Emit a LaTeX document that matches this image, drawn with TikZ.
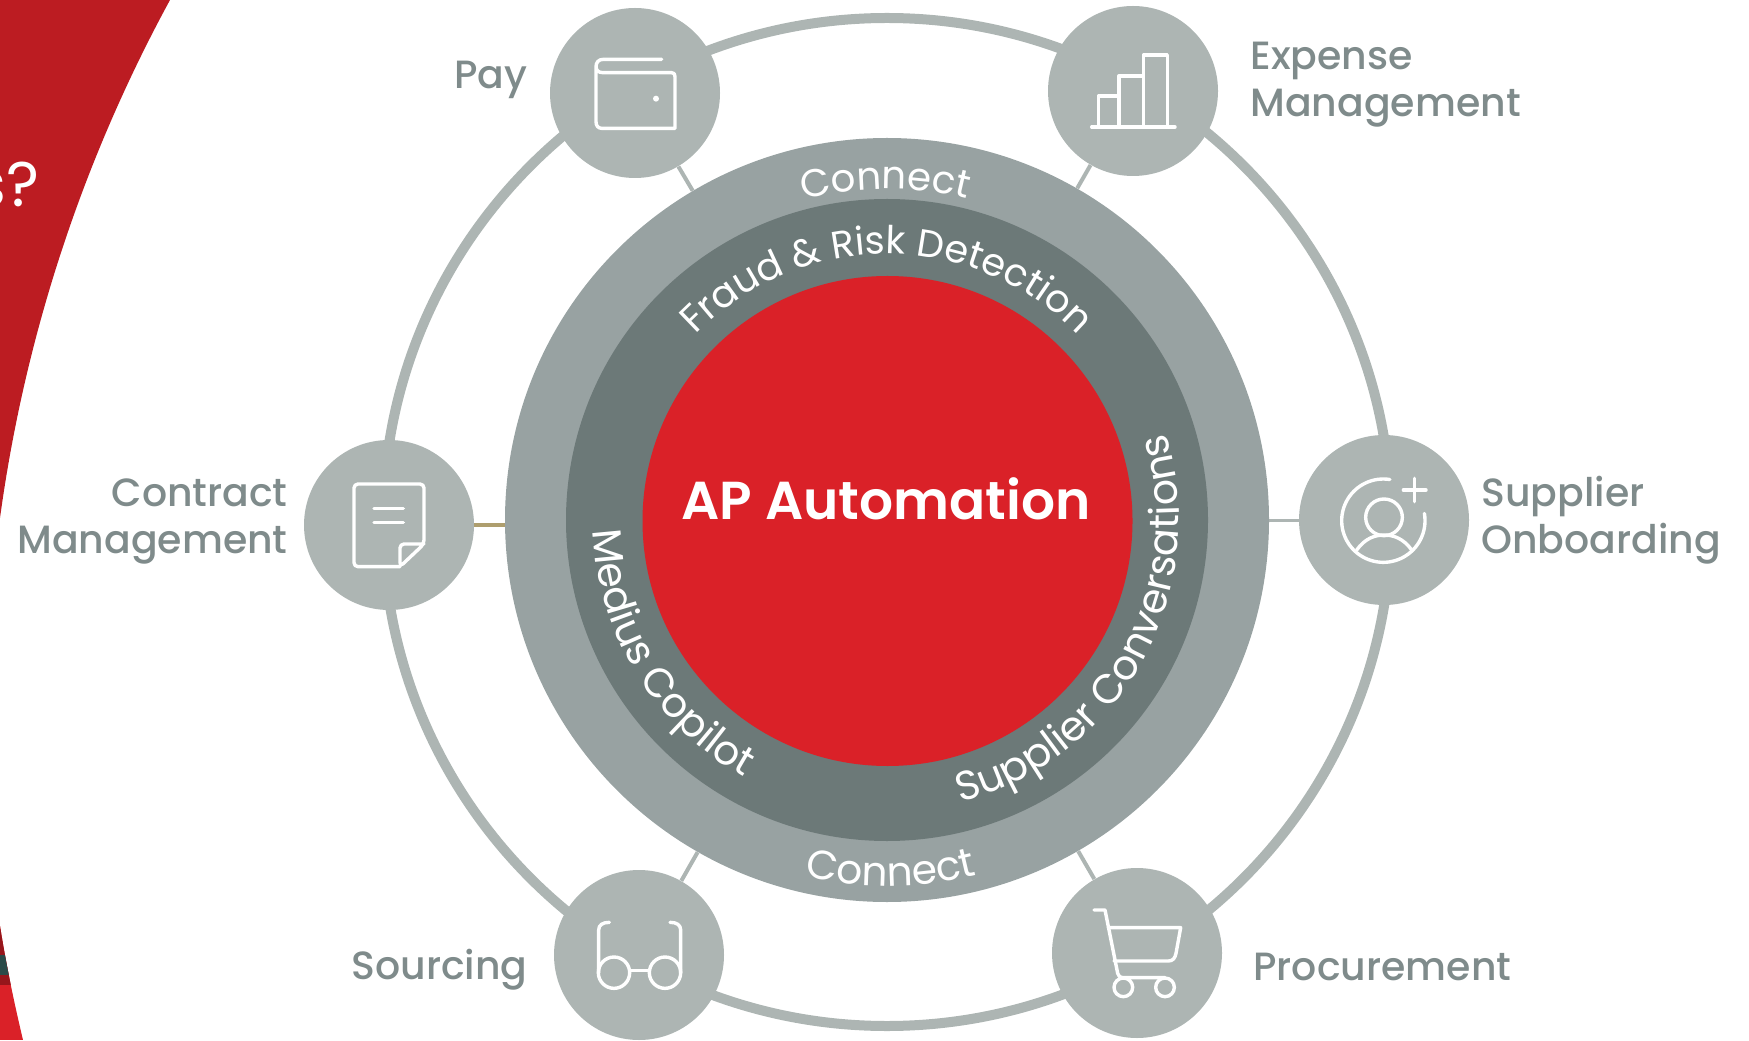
\documentclass[tikz,border=0pt]{standalone}
\usepackage{fontspec}
\setmainfont{Poppins}
\newfontfamily\pmed{Poppins Medium}
\newfontfamily\psemi{Poppins SemiBold}
\usetikzlibrary{decorations.text}
\pgfdeclarelayer{back}
\pgfsetlayers{back,main}
\definecolor{ringc}{HTML}{ADB5B3}
\definecolor{outerc}{HTML}{98A2A2}
\definecolor{midc}{HTML}{6C7978}
\definecolor{corec}{HTML}{DA2128}
\definecolor{darkred}{HTML}{BC1C22}
\definecolor{labelc}{HTML}{7F8B8B}
\definecolor{tanc}{HTML}{AE9E6E}
\definecolor{tealc}{HTML}{2A4A48}
\tikzset{
  x=0.5pt,y=0.5pt,
  hubdisc/.style={circle,inner sep=0pt,minimum size=#1*1pt},
  station/.style={circle,inner sep=0pt,minimum size=85pt,fill=ringc},
  spoke/.style={ringc,line width=2pt},
  label/.style={text=labelc,inner sep=0pt,font=\pmed\fontsize{19.7}{23.5}\selectfont},
  icon/.style={white,line width=1.7pt,line cap=round,line join=round},
  ringtext/.style 2 args={decorate,decoration={text along path,text color=white,text align=center,text={|\fontsize{#1}{24}\selectfont|#2}}},
}
\begin{document}
\begin{tikzpicture}
\useasboundingbox (0,0) rectangle (1749,1040);
% background sweep
\fill[darkred] (0,1040) -- (170,1040) arc[start angle=151.43,end angle=172.23,radius=1510] -- cycle;
\begin{scope}
\clip (0,114) .. controls (6,76) and (14,38) .. (23,0) -- (0,0) -- cycle;
\fill[corec] (0,0) rectangle (40,120);
\fill[darkred!80!black] (0,55) rectangle (40,120);
\fill[tealc] (0,65) rectangle (40,85);
\end{scope}
\node[text=white,anchor=base east,inner sep=0pt,font=\fontsize{31.5}{36}\selectfont] (partial) at (40,833) {s?};
% central discs
\node[hubdisc=382,fill=outerc] (outer) at (887,520) {};
\node[hubdisc=321,fill=midc] (mid) at (887,520) {};
\node[hubdisc=245,fill=corec] (core) at (887.5,519) {};
\node[text=white,anchor=base,inner sep=0pt,font=\psemi\fontsize{26.7}{30}\selectfont] (title) at (886,521) {AP Automation};
% stations
\node[station] (pay) at (635,947) {};
\node[station] (expense) at (1133,949) {};
\node[station] (supplier) at (1384,520) {};
\node[station] (contract) at (389,515) {};
\node[station] (sourcing) at (639,85) {};
\node[station] (procurement) at (1137,87) {};
\begin{pgfonlayer}{back}
\node[circle,inner sep=0pt,minimum size=504pt,draw=ringc,line width=5pt] (ring) at (887,518) {};
\draw[spoke] (pay) -- (outer);
\draw[spoke] (expense) -- (outer);
\draw[spoke] (sourcing) -- (outer);
\draw[spoke] (procurement) -- (outer);
\draw[spoke,line width=1.5pt] (supplier) -- (outer);
\draw[tanc,line width=2pt] (contract) -- (contract -| outer);
\end{pgfonlayer}
% labels
\node[label,anchor=base east] (lpay) at (528,951) {Pay};
\node[label,anchor=base west,align=left] (lexp) at (1250,923) {Expense\\Management};
\node[label,anchor=base east,align=right] (lcon) at (288,487) {Contract\\Management};
\node[label,anchor=base west,align=left] (lsup) at (1481,487) {Supplier\\Onboarding};
\node[label,anchor=base east] (lsou) at (528,61) {Sourcing};
\node[label,anchor=base west] (lpro) at (1253,60) {Procurement};
% curved texts
\path[ringtext={19.4}{Connect}] ([shift={(115.3:331)}]mid.center) arc[start angle=115.3,end angle=65.3,radius=331];
\path[ringtext={19.2}{Fraud {\&} Risk Detection}] ([shift={(135:266)}]mid.center) arc[start angle=135,end angle=45,radius=266];
\path[ringtext={20.4}{Connect}] ([shift={(245.6:366)}]mid.center) arc[start angle=245.6,end angle=295.6,radius=366];
\path[ringtext={20.4}{Medius Copilot}] ([shift={(174:294)}]mid.center) arc[start angle=174,end angle=249,radius=294];
\path[ringtext={20.5}{Supplier Conversations}] ([shift={(-84:292)}]mid.center) arc[start angle=-84,end angle=26,radius=292];
% icons: wallet
\begin{scope}[shift={(540,1040)},x=0.16667pt,y=-0.16667pt]
\draw[icon] (365,178) -- (190,178) .. controls (175,178) and (168,188) .. (168,200) .. controls (168,210) and (175,218) .. (188,218) -- (395,218) .. controls (402,218) and (405,222) .. (405,230) -- (405,385) -- (185,385) .. controls (175,385) and (168,378) .. (168,365) -- (168,200);
\fill[white] (348,296) circle[radius=9];
\end{scope}
% chart
\begin{scope}[shift={(1040,1040)},x=0.16667pt,y=-0.16667pt]
\draw[icon] (155,381) -- (405,381);
\draw[icon,line cap=butt] (175,381) -- (175,288) -- (237,288);
\draw[icon,line cap=butt] (237,381) -- (237,228) -- (310,228);
\draw[icon,line cap=butt] (310,381) -- (310,165) -- (382,165) -- (382,381);
\end{scope}
% new supplier
\begin{scope}[shift={(1290,610)},x=0.16667pt,y=-0.16667pt]
\draw[icon] plot[domain=81:370,samples=70,smooth] ({280+125*cos(\x)},{272-125*sin(\x)});
\draw[icon] (282,262) circle[radius=55];
\draw[icon] (200,360) .. controls (225,325) and (255,315) .. (282,315) .. controls (310,315) and (340,325) .. (365,360);
\draw[icon] (373,145) -- (373,215);
\draw[icon] (340,180) -- (408,180);
\end{scope}
% contract
\begin{scope}[shift={(300,610)},x=0.16667pt,y=-0.16667pt]
\draw[icon,rounded corners=2pt] (300,410) -- (162,410) -- (162,162) -- (372,162) -- (372,342) -- (300,410) -- (300,342) -- (372,342);
\draw[icon] (222,236) -- (310,236);
\draw[icon] (222,277) -- (310,277);
\end{scope}
% glasses
\begin{scope}[shift={(550,180)},x=0.16667pt,y=-0.16667pt]
\draw[icon] (192,338) circle[radius=47];
\draw[icon] (345,338) circle[radius=47];
\draw[icon] (240,332) -- (298,332);
\draw[icon] (146,338) -- (146,210) .. controls (146,195) and (158,187) .. (178,187);
\draw[icon] (392,338) -- (392,210) .. controls (392,195) and (380,187) .. (360,187);
\end{scope}
% cart
\begin{scope}[shift={(1050,180)},x=0.16667pt,y=-0.16667pt]
\draw[icon] (132,150) -- (165,150) -- (203,340) .. controls (205,348) and (210,353) .. (218,353) -- (345,353);
\draw[icon] (175,203) -- (392,203) -- (378,280) .. controls (375,295) and (368,303) .. (355,303) -- (192,303);
\draw[icon] (220,382) circle[radius=28];
\draw[icon] (345,382) circle[radius=28];
\end{scope}
\end{tikzpicture}
\end{document}
